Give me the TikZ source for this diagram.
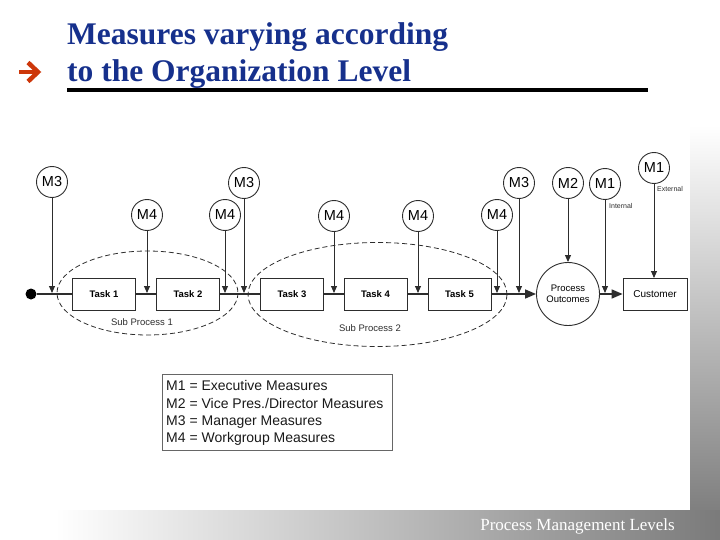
\documentclass[tikz,border=0pt]{standalone}
\usepackage{fontspec}
\setmainfont{Liberation Serif}
\newfontfamily\arial{Liberation Sans}
\usetikzlibrary{arrows.meta}
\definecolor{titleblue}{RGB}{22,48,140}
\definecolor{arrowred}{RGB}{205,55,10}
\definecolor{ln}{RGB}{45,45,45}
\begin{document}
\begin{tikzpicture}[x=1pt,y=-1pt,
  meas/.style={circle,draw=ln,line width=0.9pt,minimum size=31pt,inner sep=0pt,fill=white,
    font=\arial\fontsize{14.5}{14.5}\selectfont},
  taskbox/.style={rectangle,draw=ln,line width=0.8pt,minimum width=63pt,minimum height=32pt,
    inner sep=0pt,fill=white,font=\arial\bfseries\fontsize{9.5}{10}\selectfont},
  flow/.style={draw=ln,line width=1.6pt},
  vert/.style={draw=ln,line width=0.9pt,-{Triangle[length=7pt,width=6pt]}},
  bigtip/.style={-{Triangle[length=11pt,width=9pt]}},
  subproc/.style={draw=ln,dash pattern=on 5pt off 3pt,line width=0.8pt},
  small/.style={font=\arial\fontsize{9.5}{10}\selectfont,text=ln},
  tiny/.style={font=\arial\fontsize{7}{7}\selectfont,text=ln,inner sep=0pt}
]
\useasboundingbox (0,0) rectangle (720,540);
% background gradients
\shade[top color=white,bottom color=black!50] (690,125) rectangle (720,510);
\shade[left color=white,right color=black!52] (55,510) rectangle (720,540);

% title
\node[anchor=base west,inner sep=0pt,text=titleblue,font=\bfseries\fontsize{31.5}{31.5}\selectfont] (t1) at (67,45) {Measures varying according};
\node[anchor=base west,inner sep=0pt,text=titleblue,font=\bfseries\fontsize{31.5}{31.5}\selectfont] (t2) at (67,82) {to the Organization Level};
\draw[line width=4pt] (67,90) -- (648,90);
\draw[arrowred,line width=4.5pt] (19,72) -- (36,72);
\draw[arrowred,line width=4.5pt,miter limit=10] (28,62.5) -- (38,72) -- (28,81.5);

% sub process ellipses
\draw[subproc] (147.5,293) ellipse [x radius=90.5,y radius=42];
\draw[subproc] (377.5,294.5) ellipse [x radius=129.5,y radius=52];
\node[small] (sp1) at (142,322) {Sub Process 1};
\node[small] (sp2) at (370,328) {Sub Process 2};

% flow
\node[circle,fill=black,minimum size=11pt,inner sep=0pt] (start) at (31,294) {};
\node[taskbox] (k1) at (104,294) {Task 1};
\node[taskbox] (k2) at (188,294) {Task 2};
\node[taskbox] (k3) at (292,294) {Task 3};
\node[taskbox] (k4) at (375.5,294) {Task 4};
\node[taskbox] (k5) at (459.5,294) {Task 5};
\node[circle,draw=ln,line width=0.9pt,minimum size=63pt,inner sep=0pt,align=center,
  font=\arial\fontsize{9.5}{11.5}\selectfont] (po) at (568,294) {Process\\Outcomes};
\node[rectangle,draw=ln,line width=0.8pt,minimum width=64pt,minimum height=32pt,inner sep=0pt,
  font=\arial\fontsize{10}{10}\selectfont] (cust) at (655,294) {Customer};

\draw[flow] (start) -- (k1);
\draw[flow] (k1) -- (k2);
\draw[flow] (k2) -- (k3);
\draw[flow] (k3) -- (k4);
\draw[flow] (k4) -- (k5);
\draw[flow,bigtip] (k5) -- (po);
\draw[flow,bigtip] (po) -- (cust);

% measure circles
\node[meas] (a3) at (52,182) {M3};
\node[meas] (a4) at (147,215) {M4};
\node[meas] (b4) at (225,215) {M4};
\node[meas] (b3) at (244,183) {M3};
\node[meas] (c4) at (334,216) {M4};
\node[meas] (d4) at (418,216) {M4};
\node[meas] (e4) at (497,215) {M4};
\node[meas] (e3) at (519,183) {M3};
\node[meas] (m2) at (568,183) {M2};
\node[meas] (m1i) at (605,184) {M1};
\node[meas] (m1e) at (654,168) {M1};
\node[tiny,anchor=west] (lint) at (609,206) {Internal};
\node[tiny,anchor=west] (lext) at (657,189) {External};

% landing points on the flow line
\coordinate (pa3) at (52,293);
\coordinate (pa4) at (147,293);
\coordinate (pb4) at (225,293);
\coordinate (pb3) at (244,293);
\coordinate (pc4) at (334,293);
\coordinate (pd4) at (418,293);
\coordinate (pe4) at (497,293);
\coordinate (pe3) at (519,293);
\coordinate (pm1) at (605,293);
\coordinate (pcu) at (654,278);

\draw[vert] (a3) -- (pa3);
\draw[vert] (a4) -- (pa4);
\draw[vert] (b4) -- (pb4);
\draw[vert] (b3) -- (pb3);
\draw[vert] (c4) -- (pc4);
\draw[vert] (d4) -- (pd4);
\draw[vert] (e4) -- (pe4);
\draw[vert] (e3) -- (pe3);
\draw[vert] (m2) -- (po);
\draw[vert] (m1i) -- (pm1);
\draw[vert] (m1e) -- (pcu);

% legend
\node[draw=black!60,line width=0.9pt,minimum width=230pt,minimum height=76pt,inner sep=0pt] (leg) at (277,412) {};
\node[anchor=north west,inner sep=0pt,align=left,font=\arial\fontsize{14}{17.3}\selectfont,text=black!90] (legt) at (166,380.5)
 {M1 = Executive Measures\\M2 = Vice Pres./Director Measures\\M3 = Manager Measures\\M4 = Workgroup Measures};

% footer
\node[anchor=base east,inner sep=0pt,text=white,font=\fontsize{17}{17}\selectfont] (foot) at (675,530) {Process Management Levels};
\end{tikzpicture}
\end{document}
